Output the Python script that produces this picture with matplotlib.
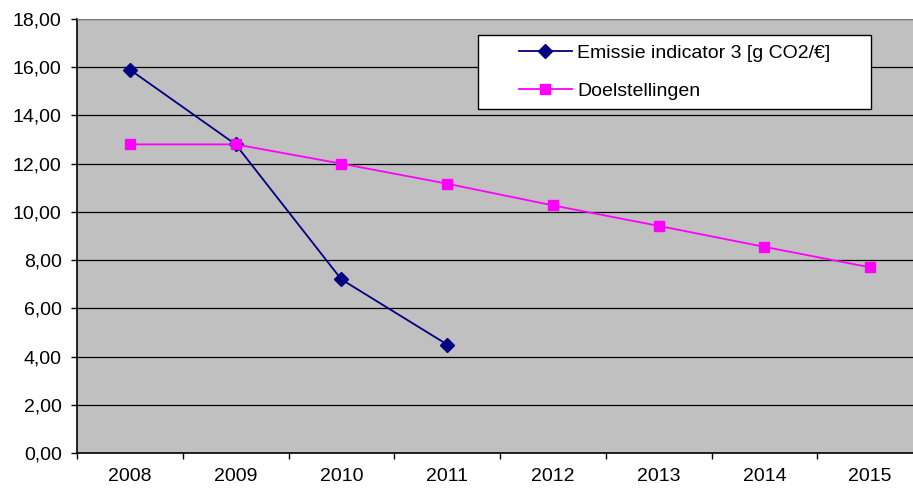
import numpy as np
import matplotlib.pyplot as plt
from matplotlib.patches import Rectangle
from matplotlib.ticker import FuncFormatter

plt.rcParams['font.family'] = ['Liberation Sans', 'DejaVu Sans']

years = ['2008', '2009', '2010', '2011', '2012', '2013', '2014', '2015']
emissie = [15.9, 12.8, 7.2, 4.5]
doelstellingen = [12.8, 12.8, 12.0, 11.17, 10.27, 9.42, 8.55, 7.7]

fig = plt.figure(figsize=(9.13, 4.88), dpi=100)
# plot area runs a bit past the right edge, as in the original
ax = fig.add_axes([77 / 913, 35 / 488, 846 / 913, 434 / 488])
ax.set_facecolor('#C0C0C0')

x = np.arange(len(years))
ax.plot(x[:len(emissie)], emissie, color='#000080', lw=1.3, marker='D',
        markersize=7, label='Emissie indicator 3 [g CO2/\u20ac]')
ax.plot(x, doelstellingen, color='#FF00FF', lw=1.3, marker='s',
        markersize=7, label='Doelstellingen')

ax.set_xlim(-0.5, len(years) - 0.5)
ax.set_ylim(0, 18)
ax.set_yticks(np.arange(0, 19, 2))
ax.yaxis.set_major_formatter(FuncFormatter(lambda v, p: f'{v:.2f}'.replace('.', ',')))
ax.yaxis.grid(True, color='black', lw=0.9)
ax.set_axisbelow(True)

ax.set_xticks(x)
ax.set_xticklabels(years)
ax.set_xticks(np.arange(-0.5, len(years)), minor=True)
ax.tick_params(axis='x', which='major', length=0, pad=11, labelsize=14)
ax.tick_params(axis='x', which='minor', length=4, width=1, direction='out')
ax.tick_params(axis='y', length=4, width=1, labelsize=14, pad=7)

ax.spines['right'].set_visible(False)
ax.spines['top'].set_color('#808080')
ax.spines['left'].set_linewidth(1.2)
ax.spines['bottom'].set_linewidth(1.2)

# legend box
ax.add_patch(Rectangle((478 / 913, 1 - 109 / 488), 393 / 913, 74 / 488,
                       transform=fig.transFigure, facecolor='white',
                       edgecolor='black', lw=1.0, zorder=4, clip_on=False))
leg = ax.legend(loc='center left', bbox_to_anchor=(519 / 913, 1 - 72 / 488),
                bbox_transform=fig.transFigure, frameon=False, fontsize=14,
                handlelength=2.7, handletextpad=0.3, labelspacing=1.05,
                borderpad=0, borderaxespad=0)
leg.set_zorder(5)

plt.savefig('out.png', dpi=100)
